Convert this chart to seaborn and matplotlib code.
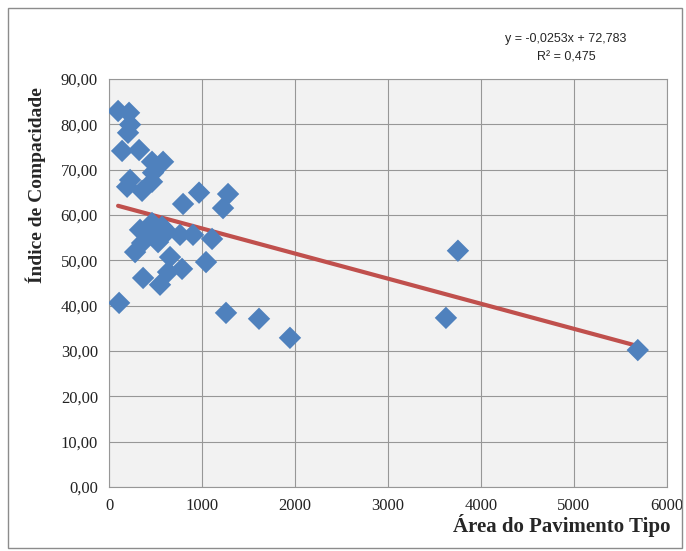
import matplotlib
matplotlib.use("Agg")
import matplotlib.pyplot as plt
from matplotlib.patches import Rectangle
from matplotlib.ticker import FuncFormatter
import numpy as np
import pandas as pd
import seaborn as sns

# Dados
area = [97, 215, 226, 204, 140, 323, 462, 581, 473, 462, 226, 194, 355, 968, 1280,
        796, 1226, 462, 570, 419, 624, 527, 355, 280, 763, 903, 1108, 656, 1043,
        634, 785, 366, 548, 108, 1258, 1613, 1946, 3624, 3753, 5688, 333, 500]
indice = [82.9, 82.5, 79.9, 78.1, 74.1, 74.3, 71.7, 71.7, 69.3, 67.3, 67.7, 66.2,
          65.3, 64.9, 64.6, 62.4, 61.5, 58.2, 57.4, 56.0, 56.3, 54.0, 53.8, 51.8,
          55.6, 55.6, 54.7, 50.7, 49.6, 47.4, 48.1, 46.1, 44.6, 40.6, 38.4, 37.1,
          32.9, 37.3, 52.1, 30.2, 56.7, 55.2]
# linha de tendência como aparece no gráfico
tend_inclinacao = -0.00553
tend_intercepto = 62.54
equacao = "y = -0,0253x + 72,783"
r2 = "R² = 0,475"

df = pd.DataFrame({"area": area, "indice": indice})
tend = pd.DataFrame({"area": [min(area), max(area)]})
tend["indice"] = tend_intercepto + tend_inclinacao * tend["area"]

sns.set_style("whitegrid")
plt.rcParams["font.family"] = ["Liberation Serif", "DejaVu Serif"]

fig = plt.figure(figsize=(6.86, 5.51), dpi=100)
ax = fig.add_axes([0.159, 0.116, 0.813, 0.741])
ax.set_facecolor("#F2F2F2")

sns.lineplot(data=tend, x="area", y="indice", color="#C0504D", linewidth=3,
             ax=ax, zorder=2)
sns.scatterplot(data=df, x="area", y="indice", marker="D", s=130, color="#4F81BD",
                edgecolor="none", ax=ax, zorder=3)

ax.set_xlim(0, 6000)
ax.set_ylim(0, 90)
ax.set_xticks(range(0, 6001, 1000))
ax.set_yticks(range(0, 91, 10))
ax.yaxis.set_major_formatter(FuncFormatter(lambda v, p: f"{v:.2f}".replace(".", ",")))
ax.grid(True, color="#979797", linewidth=0.8)
for s in ax.spines.values():
    s.set_color("#979797")
    s.set_linewidth(0.8)
ax.tick_params(axis="both", labelsize=12, length=0, pad=8, colors="#222222")

ax.set_xlabel("")
ax.set_ylabel("")
fig.text(0.052, 0.664, "Índice de Compacidade", rotation=90, ha="center", va="center",
         fontsize=14, fontweight="bold")
fig.text(0.977, 0.047, "Área do Pavimento Tipo", ha="right", va="center",
         fontsize=15, fontweight="bold")

fig.text(0.825, 0.93, equacao, ha="center", va="center", fontsize=9,
         family=["Liberation Sans", "DejaVu Sans"])
fig.text(0.825, 0.895, r2, ha="center", va="center", fontsize=9,
         family=["Liberation Sans", "DejaVu Sans"])

fig.patches.append(Rectangle((0.012, 0.006), 0.982, 0.98, transform=fig.transFigure,
                             fill=False, edgecolor="#8C8C8C", linewidth=1))

fig.savefig("out.png", dpi=100)
